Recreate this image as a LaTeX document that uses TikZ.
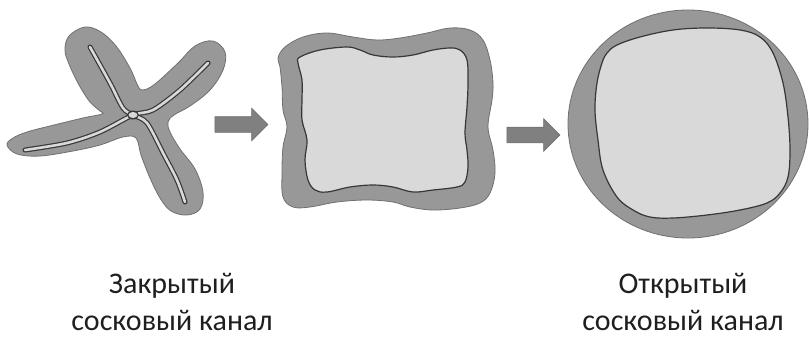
\documentclass[tikz,border=0pt]{standalone}
\usepackage{fontspec}
\setmainfont{Carlito}
\usetikzlibrary{shapes.arrows}

\definecolor{wallgray}{RGB}{152,152,152}
\definecolor{wallrim}{RGB}{112,112,112}
\definecolor{lumengray}{RGB}{217,217,217}
\definecolor{rimdark}{RGB}{55,55,55}
\definecolor{arrowgray}{RGB}{128,128,128}

\begin{document}
\begin{tikzpicture}[x=1pt,y=-1pt,
	wall/.style={fill=wallgray, draw=wallrim, line width=0.8pt},
	lumen/.style={fill=lumengray, draw=rimdark, line width=1.2pt},
	stage/.style={single arrow, draw=wallrim, fill=arrowgray, line width=0.6pt,
		inner xsep=0pt, inner ysep=7.5pt, minimum height=53pt, single arrow head extend=8.5pt},
	caption/.style={align=center, font=\fontsize{30}{37}\selectfont, text=black!88}]
	\useasboundingbox (0,0) rectangle (809,338);

	% closed canal: star shaped wall with a slit lumen
	\draw[wall] plot[smooth cycle, tension=0.6] coordinates {
		(85,27) (101,32) (116,46) (130,68) (138,86) (143,90) (155,84) (178,63)
		(195,46) (213,41) (225,52) (223,70) (210,90) (190,106) (174,115) (168,122)
		(170,132) (180,149) (195,169) (203,192) (200,209) (187,215) (171,211)
		(160,198) (150,178) (141,155) (136,138) (123,137) (100,145) (73,151)
		(40,156) (17,154) (7,145) (13,138) (27,132) (50,126) (83,118) (102,114)
		(100,111) (90,102) (79,85) (69,64) (65,50) (69,36)};
	\foreach \c/\w in {rimdark/5pt, lumengray/2.6pt}
		\draw[\c, line width=\w, line cap=round]
			plot[smooth] coordinates {(90,47) (110,83) (123,108) (133,115) (147,123) (163,153) (177,180) (185,202)}
			plot[smooth] coordinates {(25,150) (67,143) (100,132) (133,115) (153,110) (180,90) (208,63)};
	\fill[rimdark] (133,115) ellipse [x radius=6, y radius=4.5];
	\fill[lumengray] (133,115) ellipse [x radius=4.5, y radius=3];

	% half open canal
	\draw[wall] plot[smooth cycle, tension=0.6] coordinates {
		(285,47) (303,37) (327,33) (353,37) (377,40) (400,38) (427,33) (450,28)
		(470,30) (483,40) (490,60) (493,83) (492,100) (488,127) (493,150) (495,173)
		(490,193) (480,203) (460,208) (433,210) (410,207) (393,202) (367,200)
		(337,202) (310,207) (293,207) (283,197) (282,173) (283,147) (287,127)
		(283,110) (282,87) (280,67) (278,58)};
	\draw[lumen] plot[smooth cycle, tension=0.6] coordinates {
		(300,57) (320,50) (347,47) (360,50) (373,55) (393,57) (413,55) (433,50)
		(450,48) (460,50) (467,60) (468,83) (467,107) (465,133) (467,150) (468,167)
		(465,182) (457,187) (433,190) (413,192) (393,187) (373,185) (350,187)
		(327,192) (315,190) (308,180) (305,160) (307,140) (302,120) (302,100)
		(302,80) (298,63)};

	% open canal
	\draw[wall] (688,124) ellipse [x radius=120, y radius=114];
	\draw[lumen] plot[smooth cycle, tension=0.6] coordinates {
		(607,53) (617,45) (640,37) (673,30) (707,28) (740,30) (760,37) (773,53)
		(783,83) (788,117) (790,150) (788,177) (780,193) (767,203) (740,210)
		(707,215) (673,218) (650,217) (633,210) (617,197) (603,170) (598,140)
		(595,110) (597,83) (602,63)};

	\node[stage] (step1) at (237.5,124.5) {};
	\node[stage] (step2) at (529.5,135) {};

	\node[caption, anchor=base] (closed) at (172,330) {Закрытый\\сосковый канал};
	\node[caption, anchor=base] (open) at (683,330) {Открытый\\сосковый канал};
\end{tikzpicture}
\end{document}
